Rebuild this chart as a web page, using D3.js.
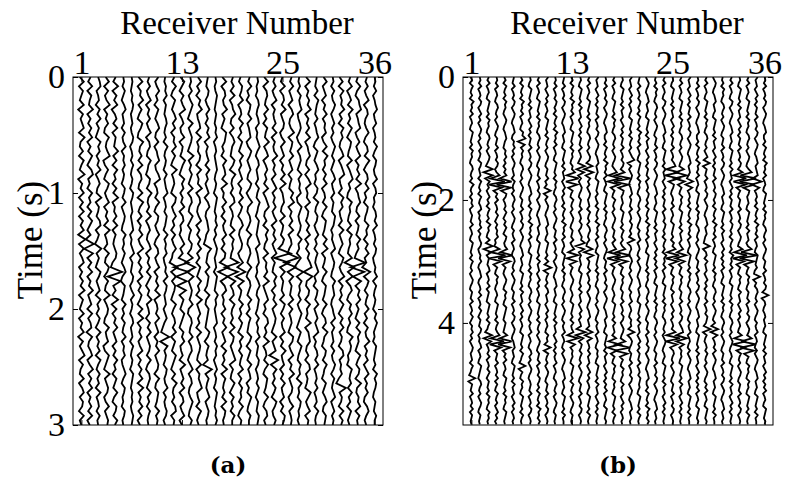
<!DOCTYPE html>
<html>
<head>
<meta charset="utf-8">
<script src="https://cdn.jsdelivr.net/npm/d3@7"></script>
<style>
  body { margin: 0; background: #fff; }
  text { font-family: "Liberation Serif", "Times New Roman", serif; fill: #000; }
  text.caption { font-family: "DejaVu Serif", serif; font-weight: bold; }
</style>
</head>
<body>
<svg id="fig" width="785" height="487"></svg>
<script>
// Receiver numbers along the top axis
const receivers = d3.range(1, 37);
const receiverTicks = [1, 13, 25, 36];

// Time axes (seconds)
const timeTicksA = [0, 1, 2, 3];
const timeTicksB = [0, 2, 4];
const axisEndA = 3;
const axisEndB = 5.66;
const sampleStepA = 0.04;   // s between samples, panel (a)
const sampleStepB = 0.05;   // s between samples, panel (b)

// Trace samples, one string per receiver. Each letter is one amplitude sample:
// 'm' = 0, 'n' = +1, 'l' = -1 ... 'a' = -12, 'z' = +13. Spaces only group samples by ten.
const tracesA = [
  "kpjomkpiol npjqlkojpm kqinlpjokp jolpirjpkn pjnkolqjom kpjnlpiokn qjolkpjnpk onjpkm",
  "nkpjomlqjn kolpjnkpmj oqkmjplnjo kpmjnhrfqj okpjnlqkmo jpknoiplkn pjmqkolpjn lokpjm",
  "mopkmnjolp knljpmoknl pjmolkqjnm kopjnliqkn ljpnkmojpl nkomjpknlo jpmkolnjpk mnkolm",
  "lpjokmqjnl okjpmlnqik oljpnkmpjn lojqkmnjpl kpnjolkqjm onkjplmoik pnljqkmonj lpkmon",
  "nkqjolpimo kpjnmlqkoj plnjokqjml okpjnlkmon jhvdtknjqi ojnlpkmojn kplnjomkpl jonkpm",
  "mnlomknplm nkolmpknmo lnmkonlpkm onlkpmnlom knpljonmkp lnkomlpknm oklnpmkonl mkonlm",
  "mnmlnmonlm nlmonkmnlo mlnmkonlmn lmnokmlnpk nmlonkmpln mknolmnkom lnmkonmlnm nlmonm",
  "kpjnmqkolj pnkjqmlokp jnolkpjqmk ojnlpkmqjn kolpjnkomj pkqjnlokmp jnkolpjqkn lpkojm",
  "nlokmpjnlo kmpjnolkpm ljonkqmlnk pjmolknpjn lokpmjnlqk mnjolpkmon kpljnomkpl nkomlm",
  "okmplnjomk nplkojmnpk loqjmnkplj onkmpljnok mpjnlokqjm nlpkmojnlp kmonjplkon mkplnm",
  "mlnmoknmln omlnkpmlnm kolmnpkmnl onmkplnmok lnmpkonlmn kmoljhrgpl nmkonlmpkn lmonkm",
  "nkpljomknp lojnmpkolj qkmnljpokm plnjokmplk hrjpkonljp mknolpjomk pnljokqmln kopjnm",
  "kpmjolnqjm oklpjnmkqn ljpmoknlpj nokljmpkni ucufsgrjom kpnljompkl njqkmolpjn okmpjm",
  "mnlokmpnlj pkmonljqkn lomkpjnolk pmjnlkonjp gsiqkmonlp kjnomlpkno ljmpknolkm pnlkom",
  "lpknjomqkl nojpkmlonj pkmlqjnolk mpjnkolpkn jomkplnjqk molnjpkmon lkpjnmoqkl njpmkm",
  "nmlonkmpln kompjnlmok plnkmojnpl kmnolkirnm lpkonmjplk onmlkpnjom lnhskomlnp kmonlm",
  "mnlmonmlnm lnmokmnlmn omlnmkonml nmolnkmonl mnkonmlpmn lmnokmnlom nkmolnmkon mlnmom",
  "kpjnolmqkn ljponkmjpl nokqjmlpkn jolmpknjon hsfrinpkml ojnlpkmojp lnkqjomlnk pjonlm",
  "nlokpjmnql kojnpmlkpn jqmlnkopjm nlkpjomnlk udtgqknojp mlnkpjonkm oqjnlkpmjo lnkpmm",
  "mkonlpjmnk plnjomkpln kmojnlpkom jnplkmonjl pisgqjnmkp lnkomjplnk omlpjnkomn kpljnm",
  "nlpkmjonlp kmnojlpnkm olkpnjmqlk nomjplknom kpljnomkpl njomlkpnjo mkplnojmkp nlkomm",
  "mnlmknomln okmlnpmkno lmnkomlpnm konmlnpkmn olmknpmlon mkolnmpknm lonkmnlomk nmlonm",
  "kpjnomlpkn jomlqknpjm olnkpjmoql knjpmolkpj nmokqjlnpk mjoplnkqjm nkpljonmkp ljnokm",
  "nlokmpjnlm okpjnlmqkn lojmpknlok mpjnlokmpj nlkpmojnlp kmonljpkmo griplnkomj pnklom",
  "mkpjnolqkm onjlpkmojn lpkqjmnolk pjnmkomhwc ujpknmlojp nkolmpjnkq lmojnkplmo jnkpom",
  "nlpkmojnpl kmqjonlpkm ojnlkpmqjn lokpjmnkiv esipknmlpj okmnljpokm pjnlqkmonj lpkmnm",
  "mlnkomnpkl nomjlpknom kplnmojkpn lmonkplmjo kgrjpmnlok mpnljomkpn lkomnjplmk onlmkm",
  "kpjnlomqjn lokpjmnplk ojnqkmlpjn mkolpjnkom prhslkonjp lmkqjnoplk njopkmljqn kmpjnm",
  "nmlokpnmlo kmnpljomkn plmkonjpml onkmplnkom lnpkmjonlp kmolnpjmkn olpkmnlokm nkpmlm",
  "lpkmojnlpk nmojlpkqmn kolpjmnkpl jonmkplqjn mkpljonmkp ljnokqmljo nkpmljomkn plkonm",
  "mnkolmpnkm olnkmpnlom knplmoknml ponkmlnpkm onlkpmnolk mnpkolmnko lmpnkomlnp kmolnm",
  "kojplnmqkn jpmolknpjm oqklnjpmok lnjpkmoljp nkmqjolnkp mjolpknmjo pkmlnjgskn mjpkom",
  "nlpjmokqln kpmjonlkpj moqlnkjpmn lkojpmnlkp gskqinpljo mplnkjqmon kljpnmokpl njomkm",
  "mkpljnoqkm npjlokmpjn lokqjmnplk ojnmkplnki vdugqjompk nljokpmnlj pmkonjqlkn mpjolm",
  "nlokmpjnol kmpljnokqm jnolpkmjon lkpmnjolpk mhrjpnkoml pknjolmqkn lojmpknlok jnpmkm",
  "mnlokmnplm okmnlpmkon lmpknolmkn ompkmnlonk lnmpkomlnm kompnlmkon mlnkpmonlk nmlomm"
];

const tracesB = [
  "lnkomlnkpm nlokmnlkon mlnkomnlkn omlnkpmlnk nmoklnmlok mnlkonmlnk omlnkmonlk nmlokmnlom knmolnkmon lmnkomljri nmlokmnlok nmlm",
  "mnlokmnlon kmolnkmonl nkmolnmkon lmnkomlnko mlnokmlnmo knlmonklnm olkmnolkmn lokmnlomkn mlonkmlnok mnlkonmlkn omlnkmonlk nmlm",
  "nlokmnlkon mlnkomnlkn omlnkmonlj sgsiolnkmo lnkomlnkpm nlkojsgqkn mlnokmnlok nmlkonmlnk omlirgqkmn lokmnlomkn mlnkomnlko mnlm",
  "mnlokmnlkn omlnkmonlk nmlokmnlon kmqexctinl okmnlomknl nmokljqeyc sinlkomnlk mnlkonmlnk omlnqewdsj nmlokmnlok nlkomlnkmo lnkm",
  "lnkomlnkom nlkmonlkmn omlknmolnk nlofvbuhon kmnlomknlo mkonlmpgwd tjnlkmonlk omnlkonmlk nmlkpfvdtj nlokmnlkon mlnkomnlko nmlm",
  "nmlokmnlon kmonlkmnol knmolnkmon lmnkomlnkn omlnkmonlk nlmokmnlkn omlnkmonlk nmlokmnlon kmonlkmnol mnlkonmlnk olmnkmolnk mnlm",
  "lnkomlnkpm nlokmnlkon rhqlomnlkn omlnkmonlk nmlokmnlon kmonlkmnol mnlkonmlnk olmnkmolnk mnlkonmlnk omljrinlko mnlkonmlnk omlm",
  "mnlkonmlnk olmnkmolnk nmlokmnlon kmonlkmnol lnkomlnkpm nlokmnlkon mlnkomnlkn omlnkmonlk nlmokmnlkn olnkmonlkm nmlokmnlon kmnm",
  "nlokmnlkon mlnkomnlkn omlnkmonlk nmlokmnlon kmonlkmnol mnlkonmlnk olmnkmolnk mnlkonmlnk omlnkmonlk nmlokmnlon lnkomlnkpm nlom",
  "olmnkmolnk mnlkonmlnk omlnkmonlk nmlokmjrin kmonlkmnol mnlkonmlnk ojsiomlnkn olmnkmolnk mnlkomnjri omlnkmonlk nmlokmnlon kmnm",
  "mnlokmnlon lnkomlnkpm nlokmnlkon mlnkomnlkn omlnkmonlk nmlokmnlon kmonlkmnol mnlkonmlnk olmnkmolnk nlmokmnlkn omlnkmonlk nmlm",
  "nmlokmnlon kmonlkmnol mnlkonmlnk olmnkmolnk lnkomlnkpm nlokmnlkon mlnkomnlkn omlnkmonlk nlmokmnlkn kmonlkmnol mnlkonmlnk olmm",
  "lnkomlnkpm nlokmnlkon mlnkomnlkn mqfvethnlk omlnkmonlk nmlokmphuf sjnlkmonlk mnlkonmlnk olmogugqkn mnlkonmlnk omlnkmonlk nmlm",
  "mnlkonmlnk olmnkmolnk nmlokmnljs hrjnkmonlk nmlokmnlon kmonsgrknl mnlkonmlnk olmnkmolnk mnhtgqkonl omlnkmonlk nmlokmnlon kmnm",
  "nlokmnlkon mlnkomnlkn omlnkmonjr gsiolnkmon lmnkomlnkn omlnkjrgsk nmlokmnlon kmonlkmnol mnjrhqkmnl olmnkmolnk mnlkonmlnk omlm",
  "olmnkmolnk nmlokmnlon kmonlkmnol mnlkonmlnk lnkomlnkpm nlokmnlkon mlnkomnlkn omlnkmonlk nlmokmnlkn mnlkonmlnk olmnkmolnk nmlm",
  "mnlokmnlon kmonlkmnol lnkomlnkpm nlokmnlkon mlnkomnlkn omlnkmonlk nmlokmnlon kmonlkmnol mnlkonmlnk olmnkmolnk nlokmnlkon mlnm",
  "nlokmnlkon mlnkomnlkn omlnkmonlk nqfuetinlk omlnkmonlk nmlokmpfvd sinlkmonlk mnlkonmlnk olmnkpfueq inlkomnlko mnlkonmlnk omlm",
  "mnlkonmlnk olmnkmolnk nmlokmnlon kpdxbuhonl mnlkonmlnk omlnkmqexc tinlkomnlk nmlokmnlon kmonlkqewc tjnlkomnlk olmnkmolnk mnlm",
  "olmnkmolnk mnlkonmlnk omlnkmorin kmonlkmnol nmlokmnlon lnkrimnlkn omlnkmonlk nlmokmnlkn mnjrimonlk nmlokmnlon kmonlkmnol mnlm",
  "nmlokmnlon lnkomlnkpm nlokmnlkon mlnkomnlkn omlnkmonlk nlmokmnlkn kmonlkmnol mnlkonmlnk olmnkmolnk nmlokmnlon mnlkonmlnk omlm",
  "kmonlkmnol mnlkonmlnk olmnkmolnk nmlokmnlon lnkomlnkpm nlokmnlkon mlnkomnlkn omlnkmonlk nmlokmnlon kmonlkmnol lnkomlnkpm nlom",
  "mlnkomnlkn omlnkmonlk nmlokmnlon kmonlkmnol mnlkonmlnk olmnkmolnk nlokmnlkon mlnkomnlkn omlnkmonlk nmlokmnlon kmonlkmnol mnlm",
  "nlokmnlkon kmonlkmnol mnlkonmlnk olmnkmolnk nmlokmnlon lnkomlnkpm nlokmnlkon mlnkomnlkn omlnkmonlk mnlkonmlnk olmnkmolnk nmlm",
  "mnlkonmlnk olmnkmolnk nmlokmnloq evcuhonlkm nlokmnlkon mlnkomqfvd tinlkomnlk olmnkmolnk mnlqewdsjn omlnkmonlk nmlokmnlon kmnm",
  "nlokmnlkon mlnkomnlkn omlnkmonlk qfuerinlko mnlkonmlnk olmnkmphtf rjnlkomnlk nmlokmnlon kmopgugqkn mnlkonmlnk olmnkmolnk nmlm",
  "olmnkmolnk nmlokmnlon kmonlkmnol mnljrhqkmn lnkomlnkpm nlokmnlkon mlnkomnlkn omlnkmonlk nlmokmnlkn kmonlkmnol mnlkonmlnk olmm",
  "mnlokmnlon kmonlkmnol lnkomlnkpm nlokmnlkon mlnkomnlkn omlnkmonlk nmlokmnlon kmonlkmnol mnlkonmlnk olmnkmolnk nlokmnlkon mlnm",
  "nlokmnlkon mlnkomnlkn omlnkmojri nmlokmnlon kmonlkmnol mnlkjrimnk olmnkmolnk nmlokmnlon mjsinlkmnl omlnkmonlk nlokmnlkon mlnm",
  "kmonlkmnol mnlkonmlnk olmnkmolnk nmlokmnlon lnkomlnkpm nlokmnlkon mlnkomnlkn omlnkmonlk nirhqkmnlo kmonlkmnol mnlkonmlnk olmm",
  "mlnkomnlkn omlnkmonlk nmlokmnlon kmonlkmnol mnlkonmlnk olmnkmolnk nlokmnlkon mlnkomnlkn omlnkmonlk nmlokmnlon kmonlkmnol mnlm",
  "nlokmnlkon kmonlkmnol mnlkonmlnk olmnkmolnk nmlokmnlon lnkomlnkpm nlokmnlkon mlnkomnlkn omlnkmonlk mnlkonmlnk olmnkmolnk nmlm",
  "mnlkonmlnk olmnkmolnk nmlokmnlon kqeveuinlk nmlokmnlon kmonlkqfwd sinlkomnlk olmnkmolnk mnlkpfvdti omlnkmonlk nmlokmnlon kmnm",
  "nlokmnlkon mlnkomnlkn omlnkmonlk nrcxbvgonl mnlkonmlnk olmnkmrdyb uhnlkomnlk nmlokmnlon kmonlrdxcu hnlkomnlko mnlkonmlnk omlm",
  "olmnkmolnk nmlokmnlon kmonlkmnol mnohtgqkmn lnkomlnkpm nlokmnlkon mlnkjrimkn omlnkmonlk nlmokmnlkn kmonlkmnol mnlkonmlnk olmm",
  "mnlokmnlon kmonlkmnol lnkomlnkpm nlokmnlkon mlnkomnlkn omlnkmonlk nmlokmnlon jrimnlkmnl mnlkonmlnk olmnkmolnk nlokmnlkon mlnm"
];

// Panel layout
const frameTop = 77, frameBottom = 425, frameWidth = 310;
const panels = [
  { key: "a", left: 73,  traces: tracesA, step: sampleStepA, tEnd: axisEndA, ticks: timeTicksA, unit: 0.8,
    caption: "(a)", yLabelX: 30 },
  { key: "b", left: 463, traces: tracesB, step: sampleStepB, tEnd: axisEndB, ticks: timeTicksB, unit: 0.75,
    caption: "(b)", yLabelX: 424 }
];

function decodeTrace(str, step) {
  return str.replace(/\s+/g, "").split("").map((c, i) => ({ t: i * step, v: c.charCodeAt(0) - 109 }));
}

const svg = d3.select("#fig");
svg.append("rect").attr("width", 785).attr("height", 487).attr("fill", "#fff");

panels.forEach(p => {
  const x = d3.scaleLinear().domain([0, 37]).range([p.left, p.left + frameWidth]);
  const y = d3.scaleLinear().domain([0, p.tEnd]).range([frameTop, frameBottom]);
  const amp = d3.scaleLinear().domain([-1, 1]).range([-p.unit, p.unit]);

  const g = svg.append("g").attr("class", "panel-" + p.key);

  g.append("clipPath").attr("id", "clip-" + p.key)
    .append("rect").attr("x", p.left).attr("y", frameTop)
    .attr("width", frameWidth).attr("height", frameBottom - frameTop);

  // wiggle traces
  g.append("g").attr("clip-path", `url(#clip-${p.key})`)
    .selectAll("path")
    .data(p.traces.map((s, k) => ({ rec: receivers[k], samples: decodeTrace(s, p.step) })))
    .join("path")
    .attr("fill", "none")
    .attr("stroke", "#000")
    .attr("stroke-width", 1.8)
    .attr("stroke-linejoin", "miter")
    .attr("d", d => d3.line()
      .x(s => x(d.rec) + amp(s.v))
      .y(s => y(s.t))(d.samples));

  // frame
  g.append("rect")
    .attr("x", p.left).attr("y", frameTop)
    .attr("width", frameWidth).attr("height", frameBottom - frameTop)
    .attr("fill", "none").attr("stroke", "#000").attr("stroke-width", 1);

  const styleAxis = sel => {
    sel.select(".domain").remove();
    sel.selectAll(".tick line").attr("stroke", "#000");
    sel.selectAll("text").attr("font-size", 34).attr("fill", "#000");
  };

  g.append("g").attr("transform", `translate(0,${frameTop})`)
    .call(d3.axisTop(x).tickValues(receiverTicks).tickSize(-5).tickPadding(3))
    .call(styleAxis);
  g.append("g").attr("transform", `translate(0,${frameBottom})`)
    .call(d3.axisBottom(x).tickValues(receiverTicks).tickSize(-5).tickFormat(""))
    .call(styleAxis);
  g.append("g").attr("transform", `translate(${p.left},0)`)
    .call(d3.axisLeft(y).tickValues(p.ticks).tickSize(-5).tickPadding(8).tickFormat(d3.format("d")))
    .call(styleAxis);
  g.append("g").attr("transform", `translate(${p.left + frameWidth},0)`)
    .call(d3.axisRight(y).tickValues(p.ticks).tickSize(-5).tickFormat(""))
    .call(styleAxis);

  // titles
  g.append("text")
    .attr("x", p.left + frameWidth / 2 + 9).attr("y", 34)
    .attr("text-anchor", "middle").attr("font-size", 33)
    .text("Receiver Number");
  g.append("text")
    .attr("transform", `translate(${p.yLabelX},240) rotate(-90)`)
    .attr("text-anchor", "middle").attr("dy", "0.35em").attr("font-size", 35)
    .text("Time (s)");
  g.append("text")
    .attr("class", "caption")
    .attr("x", p.left + frameWidth / 2).attr("y", 473)
    .attr("text-anchor", "middle").attr("font-size", 23)
    .text(p.caption);
});
</script>
</body>
</html>
